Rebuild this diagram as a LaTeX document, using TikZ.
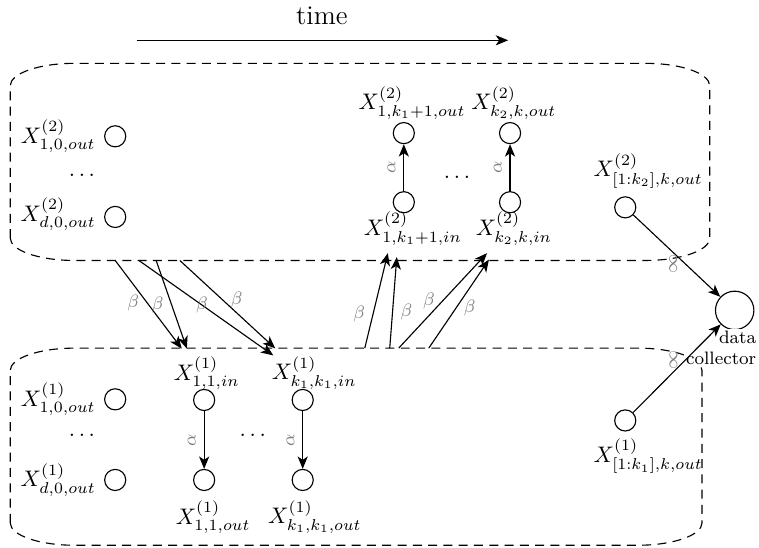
\documentclass[tikz,border=0pt]{standalone}
\usetikzlibrary{arrows.meta}
\tikzset{vtx/.style={draw,circle,minimum size=0.33cm,inner sep=0pt}}
\tikzset{dbox/.style={dash pattern=on 4pt off 2.8pt}}
\tikzset{wlabel/.style={gray,font=\footnotesize}}
\tikzset{alab/.style={wlabel,rotate=90,anchor=south,inner sep=3.5pt}}

\begin{document}
\begin{tikzpicture}[>={Stealth[length=5.5pt,width=4.5pt,inset=1.5pt]},line width=0.5pt]
\useasboundingbox (0,0) rectangle (11.86,8.55);

% Time Axis
\node[font=\large] (time) at (5.03,8.3) {time};
\coordinate (t0) at (2.14,7.92);
\coordinate (t1) at (7.94,7.92);
\draw[->] (t0) -- (t1);

% Layer Boxes
\draw[dbox] (0.16,4.83) -- (0.16,7.21) arc[start angle=180,end angle=90,x radius=1,y radius=0.35] -- (10.09,7.56) arc[start angle=90,end angle=0,x radius=1,y radius=0.35] -- (11.09,4.83) arc[start angle=0,end angle=-90,x radius=1,y radius=0.35] -- (1.16,4.48) arc[start angle=270,end angle=180,x radius=1,y radius=0.35] -- cycle;
\draw[dbox] (0.16,0.38) -- (0.16,2.76) arc[start angle=180,end angle=90,x radius=1,y radius=0.35] -- (9.97,3.11) arc[start angle=90,end angle=0,x radius=1,y radius=0.35] -- (10.97,0.38) arc[start angle=0,end angle=-90,x radius=1,y radius=0.35] -- (1.16,0.03) arc[start angle=270,end angle=180,x radius=1,y radius=0.35] -- cycle;

% Layer 2 Nodes
\node[vtx] (o2a) at (1.80,6.42) {};
\node (lo2a) at (0.91,6.42) {$X^{(2)}_{1,0,out}$};
\node (dots2) at (1.28,5.81) {$\dots$};
\node[vtx] (o2d) at (1.80,5.16) {};
\node (lo2d) at (0.91,5.2) {$X^{(2)}_{d,0,out}$};

\node[vtx] (in2a) at (6.31,5.39) {};
\node (lin2a) at (6.45,4.98) {$X^{(2)}_{1,k_1+1,in}$};
\node[vtx] (out2a) at (6.31,6.47) {};
\node (lout2a) at (6.44,6.94) {$X^{(2)}_{1,k_1+1,out}$};
\node (dots2m) at (7.14,5.78) {$\dots$};
\node[vtx] (in2b) at (7.97,5.39) {};
\node (lin2b) at (8.03,4.98) {$X^{(2)}_{k_2,k,in}$};
\node[vtx] (out2b) at (7.97,6.47) {};
\node (lout2b) at (8.03,6.94) {$X^{(2)}_{k_2,k,out}$};

\node[vtx] (agg2) at (9.77,5.31) {};
\node (lagg2) at (10.13,5.88) {$X^{(2)}_{[1:k_2],k,out}$};

% Data Collector
\node[vtx,minimum size=0.6cm] (dc) at (11.48,3.70) {};
\node[font=\footnotesize,align=right,anchor=north east,fill=white,inner sep=1pt] (ldc) at (11.86,3.42) {data\\collector};

% Layer 1 Nodes
\node[vtx] (o1a) at (1.80,2.31) {};
\node (lo1a) at (0.91,2.31) {$X^{(1)}_{1,0,out}$};
\node (dots1) at (1.28,1.75) {$\dots$};
\node[vtx] (o1d) at (1.80,1.05) {};
\node (lo1d) at (0.91,1.05) {$X^{(1)}_{d,0,out}$};

\node[vtx] (in1a) at (3.19,2.30) {};
\node (lin1a) at (3.23,2.72) {$X^{(1)}_{1,1,in}$};
\node[vtx] (out1a) at (3.19,1.05) {};
\node (lout1a) at (3.33,0.47) {$X^{(1)}_{1,1,out}$};
\node (dots1m) at (3.95,1.75) {$\dots$};
\node[vtx] (in1b) at (4.73,2.30) {};
\node (lin1b) at (4.91,2.72) {$X^{(1)}_{k_1,k_1,in}$};
\node[vtx] (out1b) at (4.73,1.05) {};
\node (lout1b) at (4.92,0.47) {$X^{(1)}_{k_1,k_1,out}$};

\node[vtx] (agg1) at (9.77,1.98) {};
\node (lagg1) at (10.13,1.42) {$X^{(1)}_{[1:k_1],k,out}$};

% Storage Edges
\draw[->] (in2a) -- node[alab] {$\alpha$} (out2a);
\draw[->] (in2b) -- node[alab] {$\alpha$} (out2b);
\draw[->] (in1a) -- node[alab] {$\alpha$} (out1a);
\draw[->] (in1b) -- node[alab] {$\alpha$} (out1b);

% Repair Edges, Layer 2 to Layer 1
\coordinate (s1) at (1.80,4.48);
\coordinate (s2) at (2.17,4.48);
\coordinate (s3) at (2.44,4.48);
\coordinate (s4) at (2.81,4.48);
\draw[->] (s1) -- node[wlabel,pos=0.48,left] {$\beta$} ([xshift=-0.39cm]lin1a.north);
\draw[->] (s2) -- node[wlabel,pos=0.47] {$\beta$} ([xshift=-0.64cm,yshift=-0.11cm]lin1b.north);
\draw[->] (s3) -- node[wlabel,pos=0.5,left] {$\beta$} ([xshift=-0.31cm]lin1a.north);
\draw[->] (s4) -- node[wlabel,pos=0.45,right] {$\beta$} ([xshift=-0.61cm]lin1b.north);

% Repair Edges, Layer 1 to Layer 2
\coordinate (u1) at (5.70,3.11);
\coordinate (u2) at (6.09,3.11);
\coordinate (u3) at (6.23,3.11);
\coordinate (u4) at (6.70,3.11);
\draw[->] (u1) -- node[wlabel,pos=0.36,left] {$\beta$} ([xshift=-0.39cm]lin2a.south);
\draw[->] (u2) -- node[wlabel,pos=0.4,right] {$\beta$} ([xshift=-0.25cm,yshift=-0.06cm]lin2a.south);
\draw[->] (u3) -- node[wlabel,pos=0.5,left] {$\beta$} ([xshift=-0.42cm]lin2b.south);
\draw[->] (u4) -- node[wlabel,pos=0.45,right] {$\beta$} ([xshift=-0.39cm,yshift=-0.1cm]lin2b.south);

% Collector Edges
\draw[->] (agg2) -- node[alab,pos=0.6] {$\infty$} (dc);
\draw[->] (agg1) -- node[alab,pos=0.6] {$\infty$} (dc);

\end{tikzpicture}
\end{document}
